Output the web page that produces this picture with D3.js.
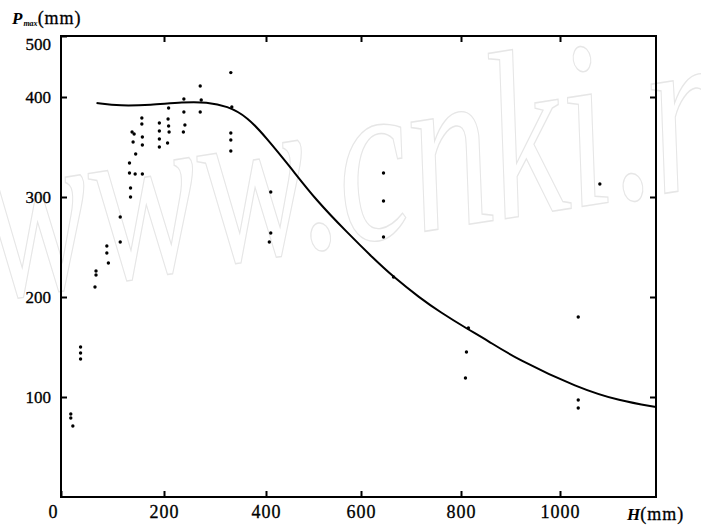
<!DOCTYPE html>
<html>
<head>
<meta charset="utf-8">
<script src="https://cdn.jsdelivr.net/npm/d3@7"></script>
<style>
  body { margin: 0; background: #fff; }
  text { font-family: "Liberation Serif", "DejaVu Serif", serif; }
</style>
</head>
<body>
<div id="chart"></div>
<script>
// measured points (H in mm, Pmax in mm)
const pointH = [19, 19, 23, 38, 38, 38, 68, 68, 66, 89, 89, 92, 115, 115,
    133, 133, 144, 158, 135, 135, 138, 142, 140, 145, 157, 157, 158, 158,
    191, 191, 191, 191, 209, 208, 209, 210, 207, 239, 239, 241, 238,
    271, 273, 271, 331, 333, 331, 331, 331, 410, 410, 407,
    645, 645, 645, 665, 815, 811, 809, 1038, 1038, 1038, 1083];
const pointP = [83, 79, 71, 150, 144, 138, 226, 222, 210, 251, 244, 234, 280, 255,
    334, 324, 323, 323, 309, 300, 365, 363, 355, 343, 379, 373, 360, 352,
    374, 366, 358, 350, 389, 378, 371, 365, 354, 398, 385, 372, 365,
    418, 397, 385, 440, 390, 364, 357, 346, 305, 264, 255,
    324, 296, 260, 220, 169, 145, 119, 180, 97, 89, 313];

// fitted curve
const curveH = [69, 115, 173, 238, 284, 324, 364, 401, 451, 505, 572, 624, 665,
    718, 758, 813, 852, 912, 1038, 1125, 1200];
const curveP = [394, 391, 392, 395, 395, 391, 380, 359, 330, 297, 264, 239, 220,
    199, 185, 168, 157, 138, 109, 96, 90];

const xTicks = [0, 200, 400, 600, 800, 1000];
const yTicks = [100, 200, 300, 400, 500];

const width = 701, height = 527;

const svg = d3.select("#chart")
    .append("svg")
    .attr("width", width)
    .attr("height", height);

// the scanned axes are a little uneven, so the scales are piecewise
const x = d3.scaleLinear()
    .domain([0, 200, 400, 600, 800, 1000, 1200])
    .range([61, 164, 266, 361, 461, 560, 656]);
const y = d3.scaleLinear()
    .domain([0, 400, 500])
    .range([497, 97, 36]);

// watermark
svg.append("text")
    .attr("transform", "translate(-8,300) rotate(-9) scale(1,1.45)")
    .attr("font-size", 165)
    .attr("font-style", "italic")
    .attr("fill", "none")
    .attr("stroke", "#e6e6e6")
    .attr("stroke-width", 1)
    .text("www.cnki.n");

// bottom axis
const gx = svg.append("g")
    .attr("transform", `translate(0,${y(0)})`)
    .call(d3.axisBottom(x).tickValues(xTicks).tickFormat(d3.format("d"))
        .tickSizeInner(-6).tickSizeOuter(0).tickPadding(8));
gx.select(".domain").remove();
gx.selectAll(".tick line").attr("stroke", "#000").attr("stroke-width", 2);
gx.selectAll("text")
    .attr("font-size", 18)
    .attr("letter-spacing", 1)
    .attr("fill", "#000")
    .attr("stroke", "#000")
    .attr("stroke-width", 0.3);
gx.selectAll(".tick").filter(d => d === 0).select("text").attr("x", -8);

// left axis
const gy = svg.append("g")
    .attr("transform", `translate(${x(0)},0)`)
    .call(d3.axisLeft(y).tickValues(yTicks).tickSizeInner(-6).tickSizeOuter(0).tickPadding(10));
gy.select(".domain").remove();
gy.selectAll(".tick line").attr("stroke", "#000").attr("stroke-width", 2);
gy.selectAll("text")
    .attr("font-size", 17)
    .attr("fill", "#000")
    .attr("stroke", "#000")
    .attr("stroke-width", 0.3);
gy.selectAll(".tick").filter(d => d === 500).select("text").attr("y", 8);

// top and right ticks
const gt = svg.append("g")
    .attr("transform", `translate(0,${y(500)})`)
    .call(d3.axisTop(x).tickValues([200, 400, 600, 800, 1000]).tickSize(-6).tickFormat(""));
gt.select(".domain").remove();
gt.selectAll(".tick line").attr("stroke", "#000").attr("stroke-width", 2);

const gr = svg.append("g")
    .attr("transform", `translate(${x(1200)},0)`)
    .call(d3.axisRight(y).tickValues([100, 200, 300, 400]).tickSize(-6).tickFormat(""));
gr.select(".domain").remove();
gr.selectAll(".tick line").attr("stroke", "#000").attr("stroke-width", 2);

// frame
svg.append("rect")
    .attr("x", x(0))
    .attr("y", y(500))
    .attr("width", x(1200) - x(0))
    .attr("height", y(0) - y(500))
    .attr("fill", "none")
    .attr("stroke", "#000")
    .attr("stroke-width", 2);

// curve
const curve = curveH.map((h, i) => [h, curveP[i]]);
svg.append("path")
    .datum(curve)
    .attr("fill", "none")
    .attr("stroke", "#000")
    .attr("stroke-width", 2)
    .attr("d", d3.line()
        .x(d => x(d[0]))
        .y(d => y(d[1]))
        .curve(d3.curveBasis));

// points
const points = pointH.map((h, i) => [h, pointP[i]]);
svg.selectAll("circle.pt")
    .data(points)
    .join("circle")
    .attr("class", "pt")
    .attr("cx", d => x(d[0]))
    .attr("cy", d => y(d[1]))
    .attr("r", 1.7)
    .attr("fill", "#000");

// axis titles
const yt = svg.append("text")
    .attr("x", 12)
    .attr("y", 24)
    .attr("fill", "#000");
yt.append("tspan")
    .attr("font-size", 17)
    .attr("font-style", "italic")
    .attr("font-weight", "bold")
    .text("P");
yt.append("tspan")
    .attr("font-size", 8)
    .attr("font-style", "italic")
    .attr("font-weight", "bold")
    .attr("dx", 1)
    .attr("dy", 2)
    .text("max");
yt.append("tspan")
    .attr("font-size", 18)
    .attr("dy", -2)
    .attr("letter-spacing", 1)
    .attr("stroke", "#000")
    .attr("stroke-width", 0.3)
    .text("(mm)");

const xt = svg.append("text")
    .attr("x", 627)
    .attr("y", 520)
    .attr("fill", "#000");
xt.append("tspan")
    .attr("font-size", 17)
    .attr("font-style", "italic")
    .attr("font-weight", "bold")
    .text("H");
xt.append("tspan")
    .attr("font-size", 18)
    .attr("letter-spacing", 1)
    .attr("stroke", "#000")
    .attr("stroke-width", 0.3)
    .text("(mm)");
</script>
</body>
</html>
